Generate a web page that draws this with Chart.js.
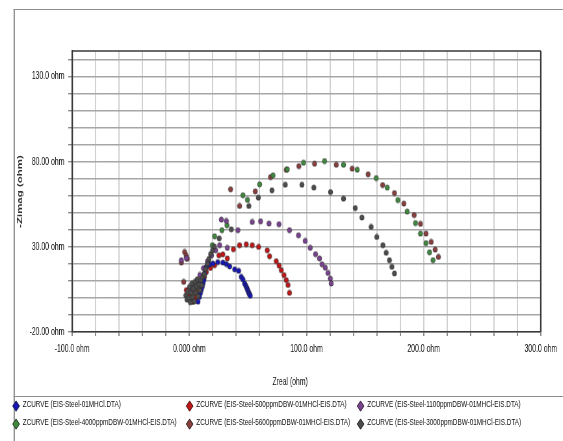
<!DOCTYPE html>
<html>
<head>
<meta charset="utf-8">
<script src="https://cdn.jsdelivr.net/npm/chart.js@4.4.1/dist/chart.umd.min.js"></script>
<style>
  html, body { margin: 0; padding: 0; background: #fff; overflow: hidden; width: 563px; height: 441px; }
  /* 原图整体横向压缩，这里按 0.65 缩放整块画布 */
  #frame { position: absolute; left: 0; top: 0; width: 866px; height: 441px; transform: scaleX(0.65); transform-origin: 0 0; }
  #box { position: absolute; left: 21px; top: 9px; width: 900px; height: 460px; border-left: 2.3px solid #8c8c8c; border-top: 1.5px solid #8c8c8c; }
  #sep { position: absolute; left: 21px; top: 396px; width: 900px; height: 0; border-top: 1.5px solid #8c8c8c; }
  #chartWrap { position: absolute; left: 0; top: 0; width: 866px; height: 395px; }
  .item { position: absolute; height: 14px; line-height: 14px; white-space: nowrap;
          font: 9.8px 'Liberation Sans', Arial, sans-serif; color: #111; }
  .mk { position: absolute; left: 0; top: 4px; width: 5.5px; height: 5.5px; transform: rotate(45deg); border: 0.8px solid rgba(40,40,40,0.8); }
  .tx { position: absolute; left: 14px; top: 0; }
</style>
</head>
<body>
<div id="frame">
  <div id="box"></div>
  <div id="chartWrap"><canvas id="nyquist" width="866" height="395"></canvas></div>
  <div id="sep"></div>
  <div id="legend"></div>
</div>
<script>
// 图例名称 / 颜色
const seriesLabels = [
  'ZCURVE (EIS-Steel-01MHCl.DTA)',
  'ZCURVE (EIS-Steel-500ppmDBW-01MHCl-EIS.DTA)',
  'ZCURVE (EIS-Steel-1100ppmDBW-01MHCl-EIS.DTA)',
  'ZCURVE (EIS-Steel-4000ppmDBW-01MHCl-EIS.DTA)',
  'ZCURVE (EIS-Steel-5600ppmDBW-01MHCl-EIS.DTA)',
  'ZCURVE (EIS-Steel-3000ppmDBW-01MHCl-EIS.DTA)'
];
const seriesColors = ['#1616b8', '#c41616', '#7b4492', '#3f8a3f', '#8b3f3f', '#4d4d4d'];

// Zreal / -Zimag (ohm)
const blueZr = [7.4, 8.6, 9.4, 10.2, 11.0, 11.7, 12.4, 13.1, 14.5, 17.2, 20.2, 24.3, 28.7, 31.6, 34.4, 38.7, 42.1, 44.3, 45.8, 47.2, 48.1, 48.9, 49.6, 50.2, 50.8, 51.4, 52.0];
const blueZi = [-2.2, 0.6, 2.8, 4.8, 6.6, 8.6, 10.5, 14.4, 18.3, 19.6, 20.2, 21.1, 20.8, 19.9, 18.5, 16.8, 15.9, 12.4, 10.9, 8.5, 7.3, 6.1, 5.0, 4.0, 3.0, 2.1, 1.3];

const redZr = [-2.6, 0.6, 3.0, 5.6, 8.0, 10.2, 12.2, 14.5, 18.0, 21.6, 25.3, 28.6, 32.4, 37.6, 42.9, 48.6, 53.7, 59.1, 66.5, 68.5, 74.2, 76.6, 78.5, 80.8, 82.7, 84.2, 85.5];
const redZi = [4.6, 1.4, -2.2, 0.6, 4.0, 7.4, 11.0, 15.3, 17.6, 19.2, 25.0, 25.6, 23.2, 28.6, 31.0, 31.5, 31.0, 30.0, 28.0, 24.5, 21.6, 19.0, 16.3, 13.4, 10.5, 7.6, 3.0];

const purpleZr = [-6.8, -2.6, 1.5, 4.0, 6.5, 9.0, 12.0, 15.5, 19.0, 22.5, 25.9, 27.3, 31.6, 32.4, 41.5, 53.7, 60.8, 68.0, 76.5, 85.5, 93.2, 98.9, 103.2, 107.7, 111.1, 113.2, 116.0, 118.3, 120.3, 121.1];
const purpleZi = [22.2, 23.4, 4.0, 7.5, 10.0, 13.5, 17.5, 21.5, 25.0, 28.0, 31.0, 46.0, 45.2, 29.4, 39.8, 44.6, 45.0, 43.7, 43.3, 39.8, 36.8, 33.5, 29.4, 25.7, 23.2, 19.8, 17.8, 14.7, 11.4, 8.5];

const greenZr = [3.1, 5.0, 7.5, 10.5, 13.5, 16.5, 19.6, 21.6, 27.8, 32.1, 45.8, 49.6, 60.0, 71.4, 83.6, 97.5, 115.4, 131.6, 143.3, 159.5, 168.9, 178.0, 185.9, 193.0, 197.3, 202.0, 205.0, 208.0];
const greenZi = [-2.2, 1.0, 5.5, 10.0, 15.0, 22.0, 31.0, 36.2, 39.8, 42.7, 60.3, 57.6, 66.7, 72.0, 75.5, 79.4, 80.4, 78.2, 75.3, 70.4, 64.8, 57.5, 50.7, 44.0, 37.8, 32.2, 26.8, 22.2];

const brownZr = [-6.8, -4.8, -4.0, -2.8, -1.8, 0.5, 2.5, 4.5, 6.5, 9.5, 13.0, 35.2, 42.9, 56.3, 69.3, 82.7, 93.5, 106.9, 125.4, 139.0, 152.6, 165.0, 175.1, 183.1, 191.9, 197.3, 202.0, 206.4, 209.8, 212.6];
const brownZi = [20.8, 9.4, 27.0, 25.0, 23.0, 0.5, 3.5, -1.0, 4.5, 8.5, 12.5, 63.8, 54.0, 62.6, 71.0, 75.2, 77.4, 78.8, 78.2, 75.9, 72.6, 66.3, 61.6, 55.4, 48.7, 43.5, 37.8, 32.9, 28.4, 24.1];

const grayZr = [-3.0, -2.0, -1.2, -0.5, 0.2, 0.8, 1.5, 2.2, 2.8, 3.5, 4.2, 4.8, 5.5, 6.2, 6.8, 7.5, 8.2, 9.0, 9.8, 10.6, 11.5, 12.8, 14.0, 15.4, 16.8, 18.2, 19.8, 21.3, 25.5, 35.8, 50.8, 58.9, 70.5, 81.9, 96.1, 106.3, 120.5, 131.6, 141.6, 147.3, 155.2, 160.0, 165.2, 168.0, 170.8, 172.9, 175.1];
const grayZi = [1.5, -1.0, 4.0, 0.0, 6.5, -2.5, 3.0, 8.5, 0.5, 5.5, -2.0, 9.5, 3.0, 7.0, 11.0, 1.0, 8.0, 4.5, 10.5, 7.5, 12.5, 14.0, 17.0, 20.0, 23.0, 25.8, 28.0, 30.2, 35.0, 40.3, 54.0, 58.9, 63.2, 66.5, 66.5, 64.8, 62.2, 58.3, 52.8, 47.2, 41.7, 35.8, 31.0, 26.5, 22.2, 18.3, 14.4];

// 坐标轴刻度标签
const xTickValues = [-100, 0, 100, 200, 300];
const xTickLabels = ['-100.0 ohm', '0.000 ohm', '100.0 ohm', '200.0 ohm', '300.0 ohm'];
const yTickValues = [-20, 30, 80, 130];
const yTickLabels = ['-20.00 ohm', '30.00 ohm', '80.00 ohm', '130.0 ohm'];
const xTitle = 'Zreal (ohm)';
const yTitle = '-Zimag (ohm)';

const seriesX = [blueZr, redZr, purpleZr, greenZr, brownZr, grayZr];
const seriesY = [blueZi, redZi, purpleZi, greenZi, brownZi, grayZi];

const FONT = "'Liberation Sans', Arial, sans-serif";

function pts(xs, ys) { return xs.map((x, i) => ({ x: x, y: ys[i] })); }

// 点的样式：画布被横向压缩，预先把圆点横向拉宽一点
function dotSprite(color) {
  const c = document.createElement('canvas');
  c.width = 9; c.height = 7;
  const g = c.getContext('2d');
  g.beginPath();
  g.ellipse(4.5, 3.5, 3.4, 2.6, 0, 0, Math.PI * 2);
  g.fillStyle = color; g.fill();
  g.lineWidth = 0.8; g.strokeStyle = 'rgba(45,45,45,0.85)'; g.stroke();
  return c;
}

const datasets = seriesLabels.map((label, i) => ({
  label: label,
  data: pts(seriesX[i], seriesY[i]),
  showLine: false,
  pointStyle: dotSprite(seriesColors[i]),
  pointRadius: 3,
  pointHoverRadius: 3,
  backgroundColor: seriesColors[i],
  order: i === 5 ? 0 : 1   // 3000ppm 点落在最上层
}));

// 绘图区外框（上、右）+ X 轴标题（原图略偏左）
const frameBox = {
  id: 'frameBox',
  afterDatasetsDraw(chart) {
    const a = chart.chartArea, c = chart.ctx;
    c.save();
    c.strokeStyle = '#3a3a3a';
    c.lineWidth = 1.5;
    c.beginPath(); c.moveTo(a.left, a.top); c.lineTo(a.right, a.top); c.stroke();
    c.lineWidth = 2.3;
    c.beginPath(); c.moveTo(a.right, a.top); c.lineTo(a.right, a.bottom); c.stroke();
    c.fillStyle = '#111';
    c.font = '10.5px ' + FONT;
    c.textAlign = 'center';
    c.textBaseline = 'middle';
    c.fillText(xTitle, a.left + (a.right - a.left) * 0.465, a.bottom + 50);
    c.restore();
  }
};

new Chart(document.getElementById('nyquist').getContext('2d'), {
  type: 'scatter',
  data: { datasets: datasets },
  plugins: [frameBox],
  options: {
    responsive: false,
    animation: false,
    layout: { autoPadding: false, padding: { left: 15, top: 51, right: 34, bottom: 4 } },
    plugins: { legend: { display: false }, tooltip: { enabled: false } },
    scales: {
      x: {
        type: 'linear', min: -100, max: 300,
        afterFit(s) { s.height = 59; },
        ticks: {
          stepSize: 20, autoSkip: false, maxRotation: 0, padding: 7, color: '#111',
          font: { family: FONT, size: 10.6 },
          callback(v) { const k = xTickValues.indexOf(v); return k < 0 ? '' : xTickLabels[k]; }
        },
        grid: { color: '#d0d0d0', lineWidth: 2, tickLength: 4, tickColor: '#8a8a8a' },
        border: { display: true, color: '#3a3a3a', width: 1.5 },
        title: { display: false, text: xTitle }
      },
      y: {
        type: 'linear', min: -20, max: 145,
        afterFit(s) { s.width = 96; },
        ticks: {
          stepSize: 10, autoSkip: false, includeBounds: false, padding: 6, color: '#111',
          font: { family: FONT, size: 10.6 },
          callback(v) { const k = yTickValues.indexOf(v); return k < 0 ? '' : yTickLabels[k]; }
        },
        grid: { color: '#a6a6a6', lineWidth: 1.4, tickLength: 6, tickColor: '#8a8a8a' },
        border: { display: true, color: '#3a3a3a', width: 2.3 },
        title: { display: true, text: yTitle, color: '#333', font: { family: FONT, size: 11.5, weight: 'bold' }, padding: { top: 9, bottom: 0 } }
      }
    }
  }
});

// 底部图例（3 列 × 2 行）
const legendCols = [21, 288, 551];
const legendRows = [398, 416];
const legend = document.getElementById('legend');
seriesLabels.forEach((label, i) => {
  const el = document.createElement('div');
  el.className = 'item';
  el.style.left = legendCols[i % 3] + 'px';
  el.style.top = legendRows[Math.floor(i / 3)] + 'px';
  el.innerHTML = '<span class="mk" style="background:' + seriesColors[i] + '"></span><span class="tx"></span>';
  el.querySelector('.tx').textContent = label;
  legend.appendChild(el);
});
</script>
</body>
</html>
